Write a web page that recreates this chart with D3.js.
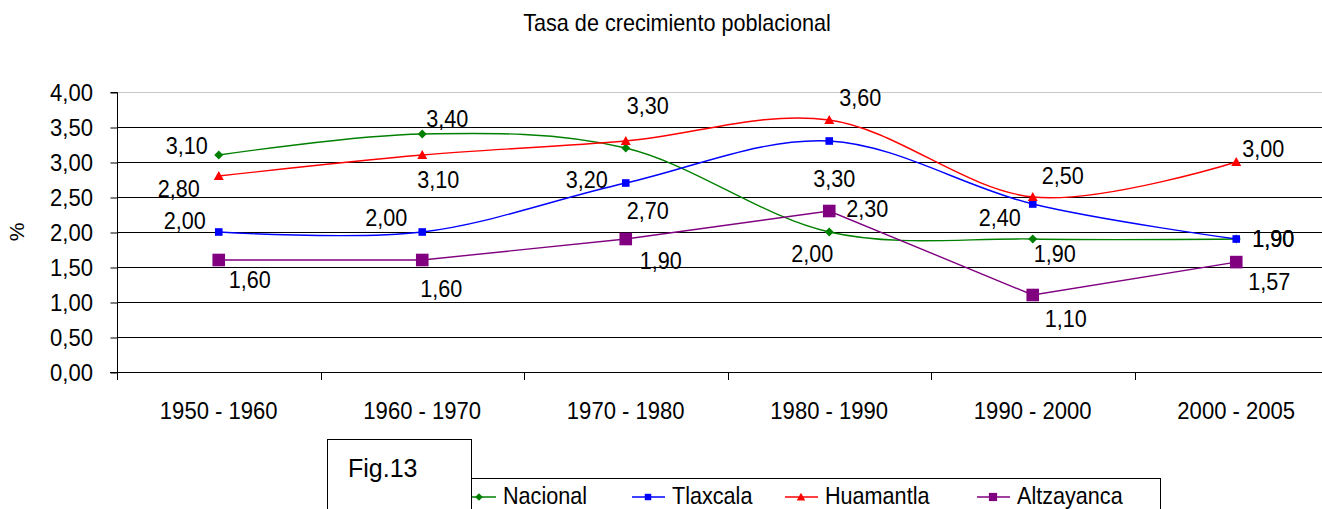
<!DOCTYPE html>
<html><head><meta charset="utf-8">
<script src="https://cdn.jsdelivr.net/npm/d3@7"></script>
<style>html,body{margin:0;padding:0;background:#fff;}svg{display:block;}</style>
</head><body>
<svg id="chart" width="1322" height="509"></svg>
<script>
// ---- data ----
const title = "Tasa de crecimiento poblacional";
const yAxisTitle = "%";
const figLabel = "Fig.13";
const categories = ["1950 - 1960","1960 - 1970","1970 - 1980","1980 - 1990","1990 - 2000","2000 - 2005"];
const yTicks = [0,0.5,1,1.5,2,2.5,3,3.5,4];
const seriesNames = ["Nacional","Tlaxcala","Huamantla","Altzayanca"];
const nacional   = [3.10,3.40,3.20,2.00,1.90,1.90];
const tlaxcala   = [2.00,2.00,2.70,3.30,2.40,1.90];
const huamantla  = [2.80,3.10,3.30,3.60,2.50,3.00];
const altzayanca = [1.60,1.60,1.90,2.30,1.10,1.57];
const seriesValues = [nacional,tlaxcala,huamantla,altzayanca];

// ---- layout / styles ----
const colors = ["#008000","#0000ff","#ff0000","#800080"];
const smooth = [true,true,true,false];
const markerType = ["diamond","square","triangle","bigsquare"];
// label offsets (left edge dx, vertical centre dy) relative to each point
const labelOffsets = [
  [[-53,-10],[4,-16],[-60,31],[-38,21],[1,14],[16,-1]],
  [[-55,-12],[-57,-15],[1,27],[-16,37],[-54,13],[16,-1]],
  [[-61,12],[-5,24],[1,-36],[10,-23],[9,-22],[6,-14]],
  [[10,19],[-2,28],[14,21],[17,-3],[12,23],[12,19]]
];
const FONT = "Liberation Sans, Arial, sans-serif";
const FS = 24, SX = 0.9;

const svg = d3.select("#chart");
const pLeft = 117, pRight = 1338, pTop = 92, pBottom = 372;
const x = d3.scaleBand().domain(categories).range([pLeft,pRight]);
const y = d3.scaleLinear().domain([0,4]).range([pBottom,pTop]);

function ctext(parent, tx, ty, str, anchor, fs, sx){
  const g = parent.append("g").attr("transform",`translate(${tx},${ty})`);
  g.append("text").attr("transform",`scale(${sx===undefined?SX:sx},1)`)
    .attr("text-anchor",anchor||"start").attr("font-family",FONT)
    .attr("font-size",fs||FS).attr("fill","#000").text(str);
  return g;
}

// title
ctext(svg, 677, 31, title, "middle", 23, 0.94);

// gridlines
svg.append("g").selectAll("line").data(yTicks.filter(d=>d>0)).join("line")
  .attr("x1",pLeft).attr("x2",1322).attr("y1",d=>y(d)+0.5).attr("y2",d=>y(d)+0.5)
  .attr("stroke",d=>d===4?"#c8c8c8":"#000").attr("stroke-width",1);

// y axis
const yAxis = d3.axisLeft(y).tickValues(yTicks).tickSize(7).tickFormat(d=>d3.format(".2f")(d).replace(".",","));
const yg = svg.append("g").attr("transform",`translate(${pLeft+0.5},0.5)`).call(yAxis);
yg.select(".domain").attr("stroke","#000").attr("d",`M-7,${pTop}H0V${pBottom}`);
yg.selectAll(".tick line").attr("stroke","#000");
yg.selectAll(".tick text").remove();
yTicks.forEach(t=>ctext(svg, 93, y(t)+8.5, d3.format(".2f")(t).replace(".",","), "end", 24, 0.92));

// x axis
svg.append("line").attr("x1",pLeft-7).attr("x2",1322).attr("y1",pBottom+0.5).attr("y2",pBottom+0.5).attr("stroke","#000");
const xBounds = categories.map(c=>x(c));
svg.append("g").selectAll("line").data(xBounds).join("line")
  .attr("x1",d=>Math.round(d)+0.5).attr("x2",d=>Math.round(d)+0.5)
  .attr("y1",pBottom).attr("y2",pBottom+8).attr("stroke","#000");
categories.forEach(c=>ctext(svg, x(c)+x.bandwidth()/2, 419, c, "middle", 24, 0.92));

// y title
svg.append("text").attr("transform","translate(24,232) rotate(-90)")
  .attr("text-anchor","middle").attr("font-family",FONT).attr("font-size",21).text(yAxisTitle);

// markers
function drawMarker(g, type, cx, cy, color, scale){
  const s = scale||1;
  if(type==="diamond"){
    const r=4.5*s;
    g.append("path").attr("d",`M${cx},${cy-r}L${cx+r},${cy}L${cx},${cy+r}L${cx-r},${cy}Z`).attr("fill",color);
  } else if(type==="square"){
    const r=3.8*s;
    g.append("rect").attr("x",cx-r).attr("y",cy-r).attr("width",2*r).attr("height",2*r).attr("fill",color);
  } else if(type==="triangle"){
    const r=5*s;
    g.append("path").attr("d",`M${cx},${cy-r}L${cx+r},${cy+r*0.8}L${cx-r},${cy+r*0.8}Z`).attr("fill",color);
  } else {
    const r=6.3*s;
    g.append("rect").attr("x",cx-r).attr("y",cy-r).attr("width",2*r).attr("height",2*r).attr("fill",color);
  }
}

const px = c => x(c)+x.bandwidth()/2;
seriesValues.forEach((vals,si)=>{
  const g = svg.append("g");
  const pts = vals.map((v,i)=>[px(categories[i]), y(v)]);
  const line = d3.line().curve(smooth[si]?d3.curveCardinal.tension(0):d3.curveLinear);
  g.append("path").attr("d",line(pts)).attr("fill","none").attr("stroke",colors[si]).attr("stroke-width",1.4);
  pts.forEach(p=>drawMarker(g, markerType[si], p[0], p[1], colors[si]));
});
// labels
seriesValues.forEach((vals,si)=>{
  vals.forEach((v,i)=>{
    const [dx,dy] = labelOffsets[si][i];
    ctext(svg, px(categories[i])+dx, y(v)+dy+8.5, d3.format(".2f")(v).replace(".",","), "start", FS, SX);
  });
});

// legend box
const lg = svg.append("g");
lg.append("rect").attr("x",440.5).attr("y",478.5).attr("width",720).attr("height",60)
  .attr("fill","#fff").attr("stroke","#000");
const legendX = [463, 632, 785, 977];
seriesNames.forEach((n,si)=>{
  const lx = legendX[si];
  lg.append("line").attr("x1",lx).attr("x2",lx+33).attr("y1",497).attr("y2",497).attr("stroke",colors[si]).attr("stroke-width",1.5);
  drawMarker(lg, markerType[si], lx+16, 497, colors[si], si===3?0.65:0.85);
  ctext(lg, lx+40, 504, n, "start", 24, 0.9);
});
// fig box
svg.append("rect").attr("x",327.5).attr("y",439.5).attr("width",144).attr("height",80)
  .attr("fill","#fff").attr("stroke","#000");
ctext(svg, 348, 477, figLabel, "start", 25, 1);
</script>
</body></html>
